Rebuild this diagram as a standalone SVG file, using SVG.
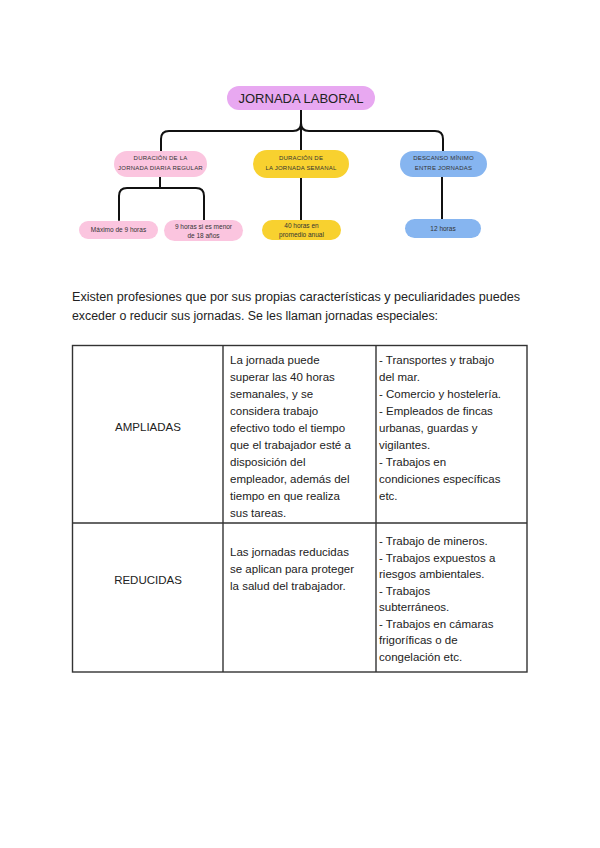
<svg xmlns="http://www.w3.org/2000/svg" width="600" height="848" viewBox="0 0 600 848">
<style>
.bg{fill:#ffffff}
.conn{fill:none;stroke:#111;stroke-width:2;stroke-linecap:round}
.purple{fill:#e8a8f1}
.pink{fill:#fbc5df}
.yellow{fill:#f8d12f}
.blue{fill:#86b5f0}
.nt{font-family:"Liberation Sans",Arial,sans-serif;fill:#333;text-anchor:middle}
.s{font-size:6px;letter-spacing:0.2px}
.b{font-size:6.5px}
.title{font-size:13px;fill:#222}
.para{font-family:"Liberation Sans",Arial,sans-serif;font-size:12px;fill:#222}
.cell{font-family:"Liberation Sans",Arial,sans-serif;font-size:11.5px;fill:#222}
.grid{fill:none;stroke:#333;stroke-width:1.4}
</style>
<rect class="bg" x="0" y="0" width="600" height="848"/>
<g id="connectors">
<path class="conn" d="M301,110 V150"/>
<path class="conn" d="M161,151 V139 Q161,131 169,131 H293 Q301,131 301,123"/>
<path class="conn" d="M443,151 V139 Q443,131 435,131 H309 Q301,131 301,123"/>
<path class="conn" d="M160,177 V188"/>
<path class="conn" d="M119,220 V196 Q119,188 127,188 H196 Q204,188 204,196 V220"/>
<path class="conn" d="M301,178 V220"/>
<path class="conn" d="M442,177 V219"/>
</g>
<g id="n-root">
<rect class="purple" x="227" y="86" width="148" height="24" rx="12"/>
<text class="nt title" x="301" y="103">JORNADA LABORAL</text>
</g>
<g id="n-diaria">
<rect class="pink" x="114" y="151" width="93" height="26" rx="13"/>
<text class="nt s" x="160.5" y="160">DURACIÓN DE LA</text>
<text class="nt s" x="160.5" y="170">JORNADA DIARIA REGULAR</text>
</g>
<g id="n-semanal">
<rect class="yellow" x="253" y="150" width="96" height="28" rx="14"/>
<text class="nt s" x="301" y="160">DURACIÓN DE</text>
<text class="nt s" x="301" y="170">LA JORNADA SEMANAL</text>
</g>
<g id="n-descanso">
<rect class="blue" x="400" y="151" width="87" height="26" rx="13"/>
<text class="nt s" x="443.5" y="160">DESCANSO MÍNIMO</text>
<text class="nt s" x="443.5" y="170">ENTRE JORNADAS</text>
</g>
<g id="n-max9">
<rect class="pink" x="79" y="221" width="79" height="18" rx="9"/>
<text class="nt b" x="118.5" y="232">Máximo de 9 horas</text>
</g>
<g id="n-menor18">
<rect class="pink" x="164" y="220" width="79" height="21" rx="10.5"/>
<text class="nt b" x="203.5" y="228.5">9 horas si es menor</text>
<text class="nt b" x="203.5" y="237.5">de 18 años</text>
</g>
<g id="n-40h">
<rect class="yellow" x="262" y="220" width="79" height="20" rx="10"/>
<text class="nt b" x="301.5" y="228">40 horas en</text>
<text class="nt b" x="301.5" y="237">promedio anual</text>
</g>
<g id="n-12h">
<rect class="blue" x="405" y="219" width="76" height="19" rx="9.5"/>
<text class="nt b" x="443" y="231">12 horas</text>
</g>
<g id="paragraph">
<text class="para" x="72" y="301" textLength="448" lengthAdjust="spacingAndGlyphs">Existen profesiones que por sus propias características y peculiaridades puedes</text>
<text class="para" x="72" y="320" textLength="366" lengthAdjust="spacingAndGlyphs">exceder o reducir sus jornadas. Se les llaman jornadas especiales:</text>
</g>
<g id="table">
<rect class="grid" x="72.5" y="345.5" width="454.5" height="326.5"/>
<line class="grid" x1="223" y1="345.5" x2="223" y2="672"/>
<line class="grid" x1="376" y1="345.5" x2="376" y2="672"/>
<line class="grid" x1="72.5" y1="523" x2="527" y2="523"/>
<text class="cell" x="148" y="431" text-anchor="middle">AMPLIADAS</text>
<text class="cell" x="230" y="364">La jornada puede</text>
<text class="cell" x="230" y="381">superar las 40 horas</text>
<text class="cell" x="230" y="398">semanales, y se</text>
<text class="cell" x="230" y="415">considera trabajo</text>
<text class="cell" x="230" y="432">efectivo todo el tiempo</text>
<text class="cell" x="230" y="449">que el trabajador esté a</text>
<text class="cell" x="230" y="466">disposición del</text>
<text class="cell" x="230" y="483">empleador, además del</text>
<text class="cell" x="230" y="500">tiempo en que realiza</text>
<text class="cell" x="230" y="517">sus tareas.</text>
<text class="cell" x="379" y="364">- Transportes y trabajo</text>
<text class="cell" x="379" y="381">del mar.</text>
<text class="cell" x="379" y="398">- Comercio y hostelería.</text>
<text class="cell" x="379" y="415">- Empleados de fincas</text>
<text class="cell" x="379" y="432">urbanas, guardas y</text>
<text class="cell" x="379" y="449">vigilantes.</text>
<text class="cell" x="379" y="466">- Trabajos en</text>
<text class="cell" x="379" y="483">condiciones específicas</text>
<text class="cell" x="379" y="500">etc.</text>
<text class="cell" x="148" y="584" text-anchor="middle">REDUCIDAS</text>
<text class="cell" x="230" y="556">Las jornadas reducidas</text>
<text class="cell" x="230" y="573">se aplican para proteger</text>
<text class="cell" x="230" y="590">la salud del trabajador.</text>
<text class="cell" x="379" y="545">- Trabajo de mineros.</text>
<text class="cell" x="379" y="561.5">- Trabajos expuestos a</text>
<text class="cell" x="379" y="578">riesgos ambientales.</text>
<text class="cell" x="379" y="594.5">- Trabajos</text>
<text class="cell" x="379" y="611">subterráneos.</text>
<text class="cell" x="379" y="627.5">- Trabajos en cámaras</text>
<text class="cell" x="379" y="644">frigoríficas o de</text>
<text class="cell" x="379" y="660.5">congelación etc.</text>
</g>
</svg>
